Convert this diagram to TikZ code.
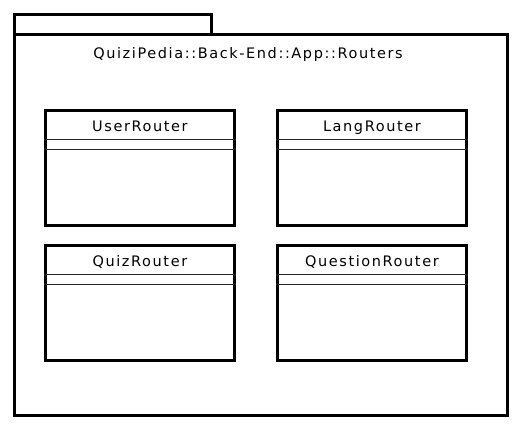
\documentclass[tikz,border=0pt]{standalone}
\usepackage{fontspec}
\setmainfont{DejaVu Sans}[LetterSpace=11]
\begin{document}
\begin{tikzpicture}[x=1pt,y=-1pt,
  thick line/.style={line width=2.8pt},
  cls/.style={draw,line width=2.8pt,minimum width=189pt,minimum height=115pt,anchor=north west,inner sep=0pt},
  ttl/.style={font=\fontsize{14.5}{16}\selectfont,anchor=base},
  sep/.style={line width=1pt,draw=black!85}]
\useasboundingbox (0,0) rectangle (520,429);
\fill[white] (0,0) rectangle (520,429);
\node[draw,thick line,anchor=north west,minimum width=197pt,minimum height=20pt,inner sep=0pt] (tab) at (13,13) {};
\node[draw,thick line,anchor=north west,minimum width=493pt,minimum height=381pt,inner sep=0pt] (pkg) at (13,33) {};
\node[ttl] (pname) at (248,58) {QuiziPedia::Back-End::App::Routers};
\foreach \n/\x/\y/\t in {user/44/109/UserRouter,lang/276/109/LangRouter,quiz/44/244/QuizRouter,question/276/244/QuestionRouter}{
  \node[cls] (\n) at (\x,\y) {};
  \node[ttl] (\n-t) at ([yshift=-22pt]\n.north) {\t};
  \draw[sep] ([yshift=-30pt]\n.north west) -- ([yshift=-30pt]\n.north east);
  \draw[sep] ([yshift=-40pt]\n.north west) -- ([yshift=-40pt]\n.north east);
}
\end{tikzpicture}
\end{document}
